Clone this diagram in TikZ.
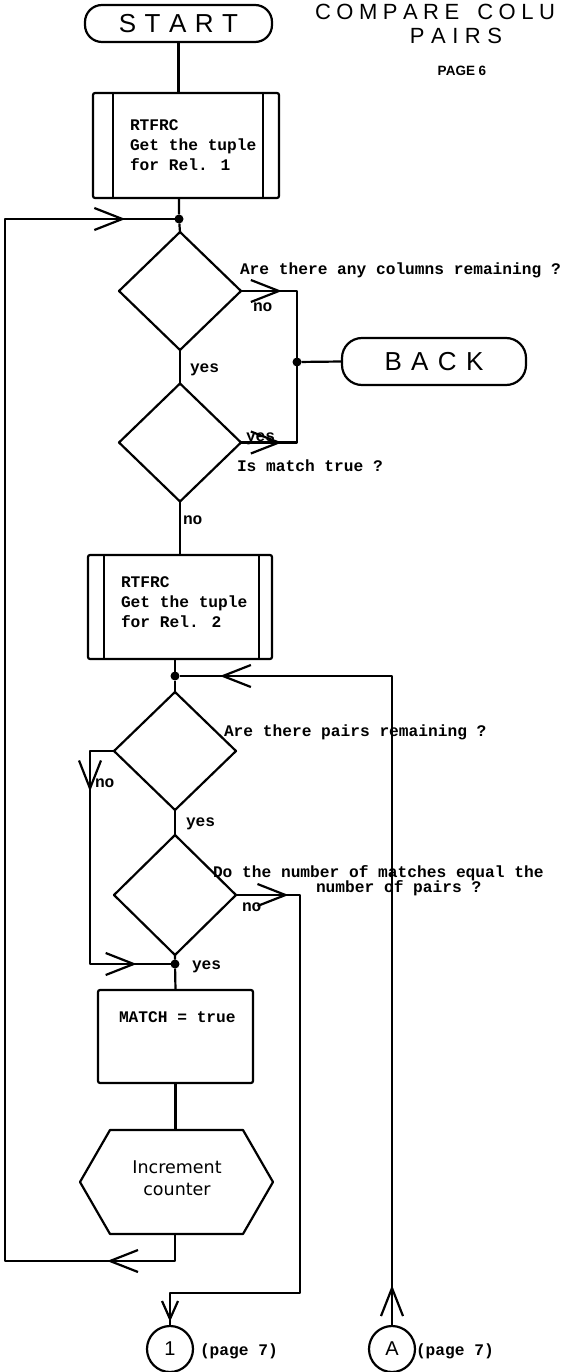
\documentclass[tikz,border=0pt]{standalone}
\usepackage{fontspec}
\usetikzlibrary{shapes.geometric,arrows.meta,decorations.markings}
\newfontfamily\txtfont{Liberation Mono}
\newfontfamily\hfont{Liberation Sans}
\newfontfamily\dfont{DejaVu Sans}
\begin{document}
\begin{tikzpicture}[x=1pt,y=-1pt,line width=2.2pt,line join=round,
  every node/.style={inner sep=0pt,outer sep=0pt},
  term/.style={draw,rectangle,rounded corners=17pt,font=\fontsize{26}{30}\hfont},
  procbox/.style={draw,rectangle,rounded corners=2pt},
  dia/.style={draw,diamond,minimum width=122pt,minimum height=118pt},
  junc/.style={circle,fill,minimum size=9pt},
  lbl/.style={anchor=base west,font=\fontsize{16.2}{20}\txtfont\bfseries},
  blk/.style={anchor=west,align=left,font=\fontsize{16.2}{20}\txtfont\bfseries},
  conn/.style={draw,circle,minimum size=46pt,font=\fontsize{20}{24}\hfont},
  arr/.style={decorate,decoration={markings,mark=at position #1 with {\arrow{Straight Barb[length=28pt,width=22pt]}}}},
  sarr/.style={decorate,decoration={markings,mark=at position #1 with {\arrow{Straight Barb[length=18pt,width=16pt]}}}}]
\useasboundingbox (0,0) rectangle (567,1372);

% title
\node[anchor=west,font=\fontsize{22}{26}\hfont] (title1) at (315,11.5) {C\kern5.5pt O\kern5.5pt M\kern5.5pt P\kern5.5pt A\kern5.5pt R\kern5.5pt E\kern4pt\ \kern8pt C\kern5.5pt O\kern5.5pt L\kern5.5pt U};
\node[font=\fontsize{22}{26}\hfont] (title2) at (456,36) {P\kern6.5pt A\kern6.5pt I\kern6.5pt R\kern6.5pt S};
\node[font=\fontsize{13.5}{16}\hfont\bfseries] (title3) at (462,71) {PAGE 6};

% nodes
\node[term,minimum width=187pt,minimum height=37pt] (start) at (178.5,23.5) {S\kern8.5pt T\kern8.5pt A\kern8.5pt R\kern8.5pt T};
\node[procbox,minimum width=186pt,minimum height=105pt] (b1) at (186,145.5) {};
\draw ([xshift=20pt]b1.north west) -- ([xshift=20pt]b1.south west);
\draw ([xshift=-16pt]b1.north east) -- ([xshift=-16pt]b1.south east);
\node[blk] (b1t) at (130,145) {RTFRC\\Get the tuple\\for Rel. 1};
\node[junc] (j1) at (179,219) {};
\node[dia] (d1) at (180,291) {};
\node[dia] (d2) at (180,442.5) {};
\node[term,minimum width=184pt,minimum height=47pt,rounded corners=20pt] (back) at (434,361.5) {B\kern9.4pt A\kern9.4pt C\kern9.4pt K};
\node[junc] (jb) at (297,362) {};
\node[procbox,minimum width=184pt,minimum height=104pt] (b2) at (180,607) {};
\draw ([xshift=16pt]b2.north west) -- ([xshift=16pt]b2.south west);
\draw ([xshift=-13pt]b2.north east) -- ([xshift=-13pt]b2.south east);
\node[blk] (b2t) at (121,602) {RTFRC\\Get the tuple\\for Rel. 2};
\node[junc] (j2) at (175,676) {};
\node[dia] (d3) at (175,751) {};
\node[dia,minimum height=120pt] (d4) at (175,895) {};
\node[junc] (j3) at (175,964) {};
\node[procbox,minimum width=155pt,minimum height=93pt] (mb) at (175.5,1036.5) {};
\node[lbl] (mbt) at (119,1022) {MATCH = true};
\node[minimum width=193pt,minimum height=104pt] (hex) at (176.5,1182) {};
\draw (hex.west) -- ([xshift=30pt]hex.north west) -- ([xshift=-30pt]hex.north east) -- (hex.east) -- ([xshift=-30pt]hex.south east) -- ([xshift=30pt]hex.south west) -- cycle;
\node[align=center,font=\fontsize{17.5}{22}\dfont] (hext) at (177,1178) {Increment\\counter};
\node[conn] (c1) at (170,1349) {1};
\node[conn] (cA) at (392,1349) {A};
\node[lbl] (p1) at (200,1355) {(page 7)};
\node[lbl] (pA) at (416,1355) {(page 7)};

\coordinate (lb) at (5,1261);
\coordinate (lt) at (5,219);
\coordinate (nl) at (90,964);
\coordinate (nr) at (300,1293);

% connectors
\draw (start.south) -- (start.south |- b1.north);
\draw (j1 |- b1.south) -- (j1) -- (d1.north);
\draw (d1.south) -- (d2.north);
\draw (d2.south) -- (d2.south |- b2.north);
\draw (j2 |- b2.south) -- (j2) -- (d3.north);
\draw (d3.south) -- (d4.north);
\draw (d4.south) -- (j3) -- (mb.north);
\draw (mb.south) -- (mb.south |- hex.north);
% loop back
\draw (hex.south -| j3) -- (j3 |- lb) -- (lb) -- (lt) -- (j1);
\path[arr=0.4] (j3 |- lb) -- (lb);
\path[arr=0.71] (lt) -- (j1);
% exits to BACK
\draw (d1.east) -- (d1.east -| jb) -- (d2.east -| jb) -- (d2.east);
\draw (jb) -- (back.west);
\path[arr=0.73] (d1.east) -- (d1.east -| jb);
\path[arr=0.73] (d2.east) -- (d2.east -| jb);
% pairs remaining: no
\draw (d3.west) -- (d3.west -| nl) -- (nl) -- (j3);
\path[arr=0.19] (d3.west -| nl) -- (nl);
\path[arr=0.58] (nl) -- (j3);
% matches equal: no
\draw (d4.east) -- (d4.east -| nr) -- (nr) -- (nr -| c1) -- (c1.north);
\path[arr=0.82] (d4.east) -- (d4.east -| nr);
\path[sarr=0.87] (nr -| c1) -- (c1.north);
% return from A
\draw (cA.north) -- (cA.north |- j2) -- (j2);
\path[arr=0.063] (cA.north) -- (cA.north |- j2);
\path[arr=0.81] (cA.north |- j2) -- (j2);

% labels
\node[lbl] (q1) at (240,274) {Are there any columns remaining ?};
\node[lbl] (q1n) at (253,311) {no};
\node[lbl] (q1y) at (190,372) {yes};
\node[lbl] (q2y) at (246,441) {yes};
\node[lbl] (q2) at (237,471) {Is match true ?};
\node[lbl] (q2n) at (183,524) {no};
\node[lbl] (q3) at (224,736) {Are there pairs remaining ?};
\node[lbl] (q3n) at (95,787) {no};
\node[lbl] (q3y) at (186,826) {yes};
\node[lbl] (q4a) at (213,877) {Do the number of matches equal the};
\node[lbl] (q4b) at (316,892) {number of pairs ?};
\node[lbl] (q4n) at (242,911) {no};
\node[lbl] (q4y) at (192,969) {yes};
\end{tikzpicture}
\end{document}
